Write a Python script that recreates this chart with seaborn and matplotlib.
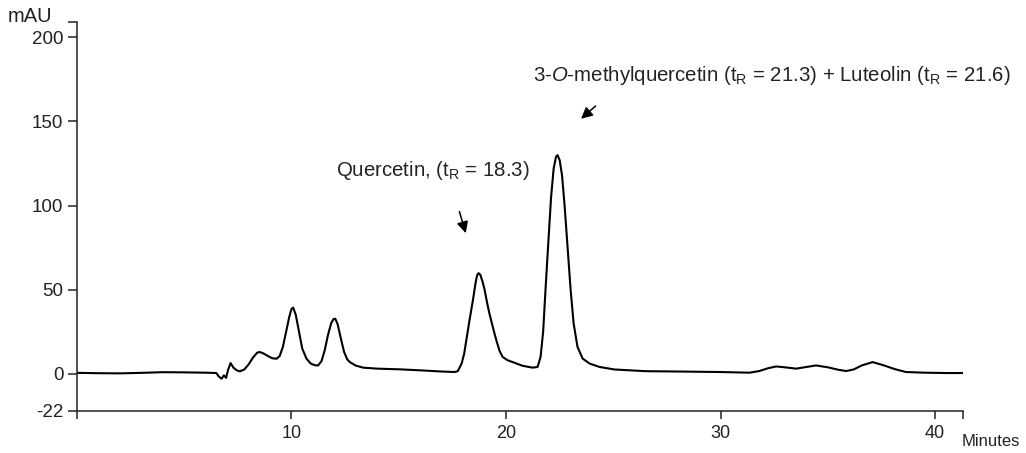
import matplotlib
matplotlib.use("Agg")
import matplotlib.pyplot as plt
import seaborn as sns
import pandas as pd

# Chromatogram points (minutes, mAU)
time_min = [0.0, 1.0, 2.0, 3.0, 4.0, 5.0, 6.0, 6.5, 6.6, 6.74, 6.85, 6.95, 7.05, 7.16,
            7.3, 7.45, 7.59, 7.8, 8.0, 8.2, 8.4, 8.52, 8.7, 8.9, 9.1, 9.3, 9.45, 9.6,
            9.75, 9.9, 10.0, 10.08, 10.2, 10.35, 10.5, 10.7, 10.9, 11.1, 11.24, 11.4,
            11.55, 11.7, 11.85, 11.96, 12.04, 12.15, 12.3, 12.45, 12.6, 12.72, 13.0,
            13.34, 14.0, 15.04, 16.0, 17.0, 17.6, 17.75, 17.93, 18.05, 18.15, 18.3,
            18.46, 18.58, 18.65, 18.72, 18.8, 18.9, 19.0, 19.12, 19.24, 19.36, 19.47,
            19.58, 19.7, 19.84, 20.07, 20.31, 20.77, 21.24, 21.47, 21.61, 21.73, 21.84,
            21.98, 22.1, 22.22, 22.33, 22.4, 22.5, 22.61, 22.73, 22.87, 23.01, 23.15,
            23.33, 23.57, 23.9, 24.36, 25.06, 26.5, 28.0, 30.0, 31.35, 31.81, 32.2,
            32.59, 33.0, 33.52, 34.0, 34.45, 35.0, 35.5, 35.85, 36.2, 36.6, 37.09,
            37.6, 38.1, 38.64, 39.5, 40.5, 41.28]
absorbance_mau = [0.5, 0.3, 0.2, 0.5, 0.9, 0.8, 0.6, 0.4, -1.5, -3.0, -1.0, -2.5, 2.5, 6.3,
                  3.5, 2.0, 1.4, 2.5, 5.5, 9.5, 12.5, 12.9, 12.0, 10.5, 9.2, 8.9, 10.5, 16,
                  25, 34, 38.5, 39.3, 35, 25, 15, 8.9, 6.0, 5.0, 4.9, 7.5,
                  14, 23, 30, 32.5, 32.7, 29.5, 21, 13, 8.5, 6.9, 4.8,
                  3.6, 3.0, 2.6, 2.0, 1.3, 1.0, 1.5, 6, 12, 20, 32,
                  44, 54, 58.5, 59.8, 58.8, 55, 50, 42, 35, 29, 23.5,
                  18.5, 13.5, 10, 8, 6.9, 4.7, 3.6, 4.0, 10, 25, 50,
                  80, 105, 122, 129, 130, 127, 118, 100, 75, 50, 30,
                  16, 9, 6, 4, 2.5, 1.5, 1.3, 1.0, 0.6, 1.6, 3.2,
                  4.3, 3.8, 3.0, 4.0, 4.9, 3.8, 2.3, 1.6, 2.5, 5.0, 6.9,
                  5.0, 2.8, 1.0, 0.6, 0.4, 0.4]

x_ticks = [0, 10, 20, 30, 40, 41.3]
x_tick_labels = ["", "10", "20", "30", "40", ""]
y_ticks = [-22, 0, 50, 100, 150, 200, 209]
y_tick_labels = ["-22", "0", "50", "100", "150", "200", ""]

df = pd.DataFrame({"Minutes": time_min, "mAU": absorbance_mau})

sns.set_style("ticks")
plt.rcParams["font.family"] = ["Liberation Sans", "DejaVu Sans"]
plt.rcParams["mathtext.fontset"] = "custom"
plt.rcParams["mathtext.rm"] = "Liberation Sans"
plt.rcParams["mathtext.it"] = "Liberation Sans:italic"

fig = plt.figure(figsize=(10.26, 4.53), dpi=100)
ax = fig.add_axes([0.0750, 0.0934, 0.8636, 0.8574])

sns.lineplot(data=df, x="Minutes", y="mAU", ax=ax, color="black", linewidth=1.5,
             estimator=None, sort=False)

ax.set_xlim(0, 41.3)
ax.set_ylim(-22, 209)
ax.set_xlabel("")
ax.set_ylabel("")
ax.set_xticks(x_ticks)
ax.set_xticklabels(x_tick_labels, fontsize=13)
ax.set_yticks(y_ticks)
ax.set_yticklabels(y_tick_labels, fontsize=13.5)
ax.tick_params(axis="x", length=5.5, width=1.1, pad=4.5, colors="#222222")
ax.tick_params(axis="y", length=6.3, width=1.1, pad=3.5, colors="#222222")

for side in ["top", "right"]:
    ax.spines[side].set_visible(False)
for side in ["left", "bottom"]:
    ax.spines[side].set_linewidth(1.1)
    ax.spines[side].set_color("#222222")

fig.text(52 / 1026, 1 - 22 / 453, "mAU", ha="right", va="baseline", fontsize=14.5, color="#222222")
fig.text(1020 / 1026, 1 - 446 / 453, "Minutes", ha="right", va="baseline", fontsize=12,
         color="#222222")

ax.text(16.6, 121, r"Quercetin, (t$_\mathrm{R}$ = 18.3)", ha="center", va="center",
        fontsize=14.7, color="#222222")
ax.annotate("", xy=(18.16, 82), xytext=(17.79, 98),
            arrowprops=dict(arrowstyle="-|>", color="black", lw=1.1, mutation_scale=17))

ax.text(32.39, 177.6, r"3-$\it{O}$-methylquercetin (t$_\mathrm{R}$ = 21.3) + Luteolin (t$_\mathrm{R}$ = 21.6)",
        ha="center", va="center", fontsize=14.7, color="#222222")
ax.annotate("", xy=(23.40, 150.5), xytext=(24.27, 160.3),
            arrowprops=dict(arrowstyle="-|>", color="black", lw=1.1, mutation_scale=17))

fig.savefig("out.png", dpi=100)
